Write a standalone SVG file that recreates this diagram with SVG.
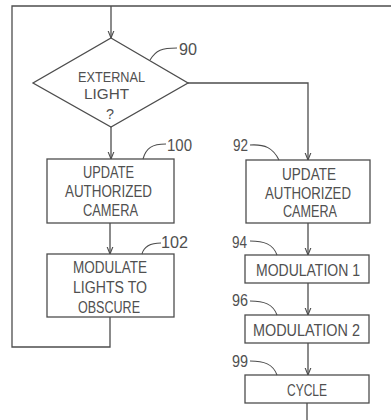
<svg xmlns="http://www.w3.org/2000/svg" width="391" height="420" viewBox="0 0 391 420">
<defs>
<style>
.ln{fill:none;stroke:#4d4d4d;stroke-width:1.3}
.bx{fill:#fff;stroke:#4d4d4d;stroke-width:1.3}
.t{font-family:"Liberation Sans Narrow","Liberation Sans",Arial,sans-serif;font-size:16px;fill:#505050}
.d{font-family:"Liberation Sans Narrow","Liberation Sans",Arial,sans-serif;font-size:14px;fill:#505050}
.lb{font-family:"Liberation Sans Narrow","Liberation Sans",Arial,sans-serif;font-size:16px;fill:#505050}
.ld{fill:none;stroke:#4d4d4d;stroke-width:1.1}
</style>
<marker id="ah" viewBox="0 0 8 8" refX="7.5" refY="4" markerWidth="8" markerHeight="8" markerUnits="userSpaceOnUse" orient="auto">
<path d="M0,1 L7.5,4 L0,7" fill="none" stroke="#4d4d4d" stroke-width="1.1"/>
</marker>
</defs>
<rect width="391" height="420" fill="#fff"/>
<g id="connectors">
<path class="ln" d="M110,317 V347 H12 V6 H391"/>
<path class="ln" d="M111,6 V38" marker-end="url(#ah)"/>
<path class="ln" d="M111,127 V159" marker-end="url(#ah)"/>
<path class="ln" d="M110,223 V254" marker-end="url(#ah)"/>
<path class="ln" d="M188,83 H308 V160" marker-end="url(#ah)"/>
<path class="ln" d="M308,223 V255" marker-end="url(#ah)"/>
<path class="ln" d="M308,283 V315" marker-end="url(#ah)"/>
<path class="ln" d="M308,343 V375" marker-end="url(#ah)"/>
<path class="ln" d="M307,403 V420"/>
</g>
<g id="n90">
<polygon class="bx" points="111,38 188,83 111,127 33,83"/>
<text class="d" x="78" y="82" textLength="67" lengthAdjust="spacingAndGlyphs">EXTERNAL</text>
<text class="d" x="84" y="99" textLength="45" lengthAdjust="spacingAndGlyphs">LIGHT</text>
<text class="d" x="106" y="119" textLength="8" lengthAdjust="spacingAndGlyphs">?</text>
<path class="ld" d="M150,60 C156,50 162,48 177,48"/>
<text class="lb" x="179" y="55" textLength="18" lengthAdjust="spacingAndGlyphs">90</text>
</g>
<g id="n100">
<rect class="bx" x="47" y="159" width="127" height="64"/>
<text class="t" x="83" y="178" textLength="51" lengthAdjust="spacingAndGlyphs">UPDATE</text>
<text class="t" x="65" y="197" textLength="87" lengthAdjust="spacingAndGlyphs">AUTHORIZED</text>
<text class="t" x="83" y="216" textLength="55" lengthAdjust="spacingAndGlyphs">CAMERA</text>
<path class="ld" d="M143,159 C146,148 152,144 166,144"/>
<text class="lb" x="167" y="151" textLength="25" lengthAdjust="spacingAndGlyphs">100</text>
</g>
<g id="n102">
<rect class="bx" x="47" y="254" width="127" height="63"/>
<text class="t" x="73" y="273" textLength="74" lengthAdjust="spacingAndGlyphs">MODULATE</text>
<text class="t" x="73" y="293" textLength="74" lengthAdjust="spacingAndGlyphs">LIGHTS  TO</text>
<text class="t" x="78" y="313" textLength="62" lengthAdjust="spacingAndGlyphs">OBSCURE</text>
<path class="ld" d="M142,254 C144,246 150,243 161,243"/>
<text class="lb" x="161" y="248" textLength="27" lengthAdjust="spacingAndGlyphs">102</text>
</g>
<g id="n92">
<rect class="bx" x="246" y="160" width="124" height="63"/>
<text class="t" x="282" y="180" textLength="54" lengthAdjust="spacingAndGlyphs">UPDATE</text>
<text class="t" x="265" y="199" textLength="86" lengthAdjust="spacingAndGlyphs">AUTHORIZED</text>
<text class="t" x="283" y="217" textLength="54" lengthAdjust="spacingAndGlyphs">CAMERA</text>
<path class="ld" d="M250,145 C265,144 273,148 279,160"/>
<text class="lb" x="233" y="151" textLength="15" lengthAdjust="spacingAndGlyphs">92</text>
</g>
<g id="n94">
<rect class="bx" x="245" y="255" width="124" height="28"/>
<text class="t" x="256" y="276" textLength="104" lengthAdjust="spacingAndGlyphs">MODULATION  1</text>
<path class="ld" d="M250,241 C264,241 273,244 277,255"/>
<text class="lb" x="232" y="248" textLength="15" lengthAdjust="spacingAndGlyphs">94</text>
</g>
<g id="n96">
<rect class="bx" x="245" y="315" width="124" height="28"/>
<text class="t" x="253" y="336" textLength="107" lengthAdjust="spacingAndGlyphs">MODULATION  2</text>
<path class="ld" d="M250,301 C264,301 273,304 277,315"/>
<text class="lb" x="232" y="306" textLength="16" lengthAdjust="spacingAndGlyphs">96</text>
</g>
<g id="n99">
<rect class="bx" x="245" y="375" width="124" height="28"/>
<text class="t" x="287" y="396" textLength="40" lengthAdjust="spacingAndGlyphs">CYCLE</text>
<path class="ld" d="M250,361 C264,361 273,364 277,375"/>
<text class="lb" x="232" y="367" textLength="16" lengthAdjust="spacingAndGlyphs">99</text>
</g>
</svg>
